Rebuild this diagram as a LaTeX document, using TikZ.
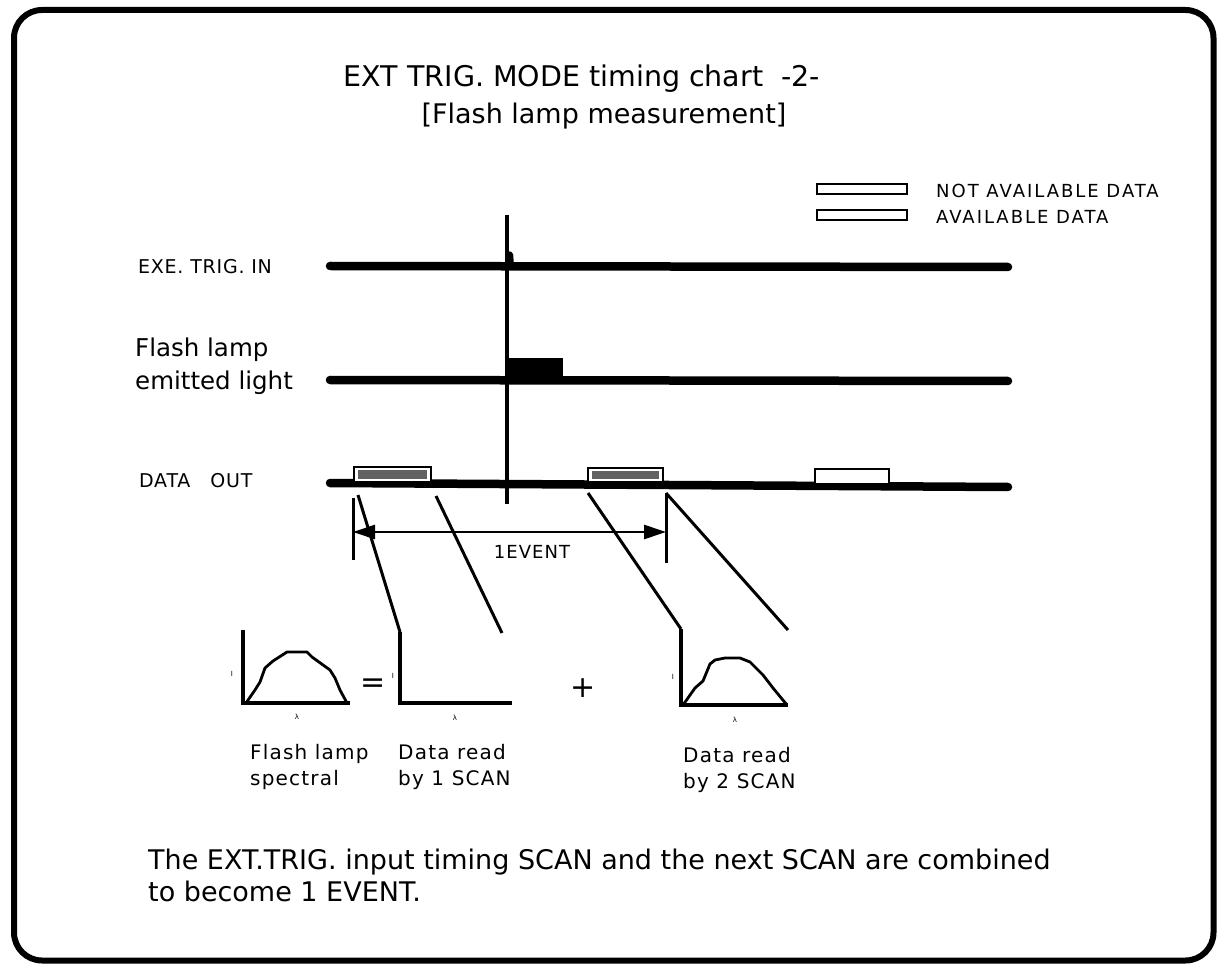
\documentclass[tikz,border=0pt]{standalone}
\usepackage{fontspec}
\setmainfont{DejaVu Sans}
\newfontfamily\widefont{DejaVu Sans}[LetterSpace=4]
\newfontfamily\legfont{DejaVu Sans}[LetterSpace=11]
\newfontfamily\midfont{DejaVu Sans}[LetterSpace=6]
\newcommand{\fsz}[1]{\fontsize{#1}{#1}\selectfont}
\usetikzlibrary{arrows.meta}
\begin{document}
\begin{tikzpicture}[x=1pt,y=-1pt,
  sig/.style={line width=8.5pt, line cap=round},
  conn/.style={line width=3pt, line join=round},
  axis/.style={line width=3.2pt, line join=miter},
  curve/.style={line width=2.8pt, line join=round},
  lbl/.style={inner sep=0pt, anchor=base west},
  ctr/.style={inner sep=0pt, anchor=base},
  tiny/.style={inner sep=0pt, font=\fsz{7}},
  databox/.style={draw=black, line width=2pt, fill=white},
  noise/.style={fill=black!62},
  dim/.style={line width=2.6pt, {Triangle[length=22pt,width=14pt]}-{Triangle[length=22pt,width=14pt]}}]
\useasboundingbox (0,0) rectangle (1221,965);
% frame
\draw[line width=6pt, rounded corners=28pt] (14,10) rectangle (1213.5,960.5);

% title
\node[ctr, font=\fsz{28.5}] (title1) at (582,87) {EXT TRIG. MODE timing chart\ \ -2-};
\node[ctr, font=\fsz{27}] (title2) at (604,124) {[Flash lamp measurement]};

% legend
\draw[databox] (817,184) rectangle (907,194);
\node[lbl, font=\fsz{18}\legfont] (leg1) at (936,198) {NOT AVAILABLE DATA};
\draw[databox] (817,210) rectangle (907,220);
\node[lbl, font=\fsz{18}\legfont] (leg2) at (936,224) {AVAILABLE DATA};

% signal labels
\node[lbl, font=\fsz{19}\widefont] (exe) at (138,274) {EXE. TRIG. IN};
\node[lbl, font=\fsz{24.5}] (fl1) at (135,357) {Flash lamp};
\node[lbl, font=\fsz{24.5}] (fl2) at (135,390) {emitted light};
\node[lbl, font=\fsz{19}\widefont] (dout) at (139,487) {DATA\hspace{20pt}OUT};

% signal lines
\coordinate (exeL) at (330,266); \coordinate (exeR) at (1008,267);
\coordinate (flL) at (330,380); \coordinate (flR) at (1008,381);
\coordinate (doL) at (330,483); \coordinate (doR) at (1008,487);
\draw[sig] (exeL) -- (exeR);
\draw[sig] (flL) -- (flR);
\draw[sig] (doL) -- (doR);

% trigger vertical and pulse
\coordinate (vtop) at (507,215); \coordinate (vbot) at (507,504);
\draw[line width=3.2pt] (vtop) -- (vbot);
\fill[rounded corners=2pt] (506,266) -- (506,251) -- (513,252) -- (514,266) -- cycle;
% flash block
\fill (506,358) rectangle (563,384);

% data boxes
\draw[databox] (354,467) rectangle (431,482);
\fill[noise] (358,470) rectangle (427,479);
\draw[databox] (588,468) rectangle (663,482);
\fill[noise] (592,471) rectangle (659,479);
\draw[databox] (815,469) rectangle (889,484);

% 1 EVENT dimension
\coordinate (tkL1) at (353,498); \coordinate (tkL2) at (353,560);
\coordinate (tkR1) at (666,493); \coordinate (tkR2) at (666,563);
\draw[line width=3pt] (tkL1) -- (tkL2);
\draw[line width=3pt] (tkR1) -- (tkR2);
\coordinate (arL) at (353,532); \coordinate (arR) at (666,532);
\draw[dim] (arL) -- (arR);
\node[ctr, font=\fsz{18}\midfont] (ev) at (532,558) {1EVENT};

% connector diagonals
\coordinate (d1a) at (358,495); \coordinate (d1b) at (400,632);
\coordinate (d2a) at (436,496); \coordinate (d2b) at (502,633);
\coordinate (d3a) at (588,493); \coordinate (d3b) at (681,629);
\coordinate (d4b) at (788,630);
\draw[conn] (d1a) -- (d1b);
\draw[conn] (d2a) -- (d2b);
\draw[conn] (d3a) -- (d3b);
\draw[conn] (tkR1) -- (d4b);

% graph 1
\draw[axis] (243,630) -- (243,703) -- (350,703);
\draw[curve] (246,703) -- (255,690) -- (260,682) -- (265,668) -- (273,661) -- (287,652) -- (307,652) -- (312,657) -- (330,670) -- (335,678) -- (340,690) -- (347,703);
\node[tiny] (i1) at (232,674) {I};
\node[tiny] (l1) at (297,717) {λ};
\node[inner sep=0pt, font=\fsz{30}] (eq) at (373,686) {=};

% graph 2
\draw[axis] (d1b) -- (400,703) -- (512,703);
\node[tiny] (i2) at (393,676) {I};
\node[tiny] (l2) at (455,718) {λ};
\node[inner sep=0pt, font=\fsz{30}] (plus) at (583,688) {+};

% graph 3
\draw[axis] (d3b) -- (681,705) -- (788,705);
\draw[curve] (683,705) -- (695,688) -- (703,681) -- (710,664) -- (715,660) -- (725,658) -- (740,658) -- (750,662) -- (763,675) -- (773,688) -- (787,705);
\node[tiny] (i3) at (673,677) {I};
\node[tiny] (l3) at (735,720) {λ};

% graph labels
\node[lbl, font=\fsz{20}\midfont] (g1a) at (250,759) {Flash lamp};
\node[lbl, font=\fsz{20}\midfont] (g1b) at (250,785) {spectral};
\node[lbl, font=\fsz{20}\midfont] (g2a) at (398,759) {Data read};
\node[lbl, font=\fsz{20}\midfont] (g2b) at (398,785) {by 1 SCAN};
\node[lbl, font=\fsz{20}\midfont] (g3a) at (683,762) {Data read};
\node[lbl, font=\fsz{20}\midfont] (g3b) at (683,788) {by 2 SCAN};

% bottom text
\node[lbl, font=\fsz{27}] (b1) at (148,869) {The EXT.TRIG. input timing SCAN and the next SCAN are combined};
\node[lbl, font=\fsz{27}] (b2) at (148,901) {to become 1 EVENT.};
\end{tikzpicture}
\end{document}
